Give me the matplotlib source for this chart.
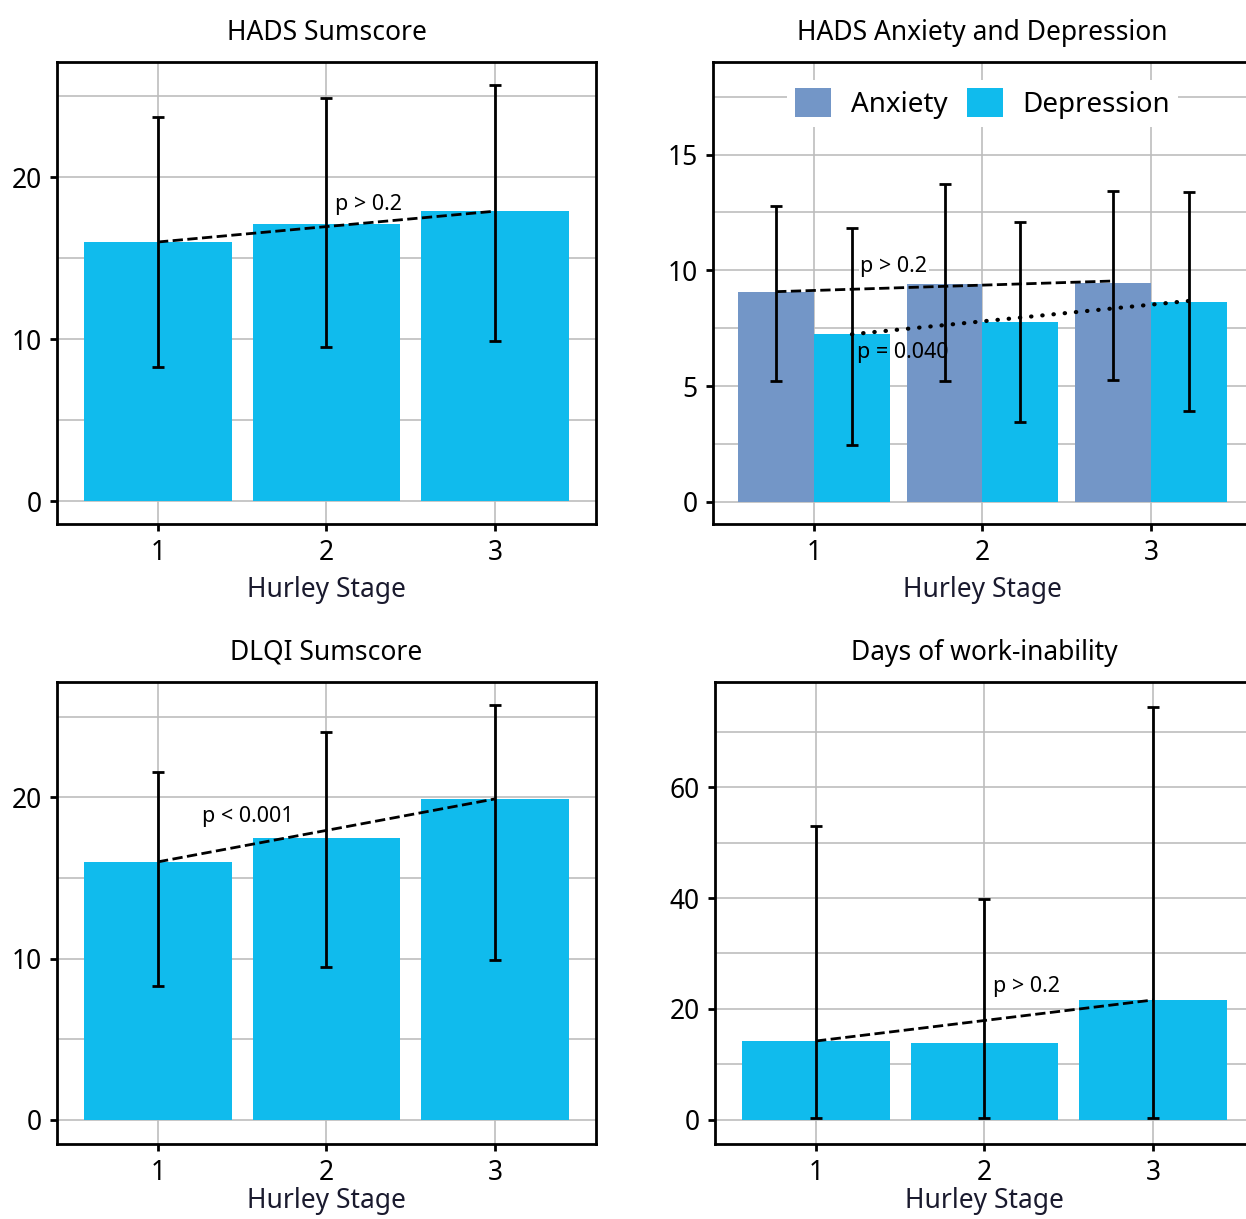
import matplotlib
matplotlib.use("Agg")
import matplotlib.pyplot as plt
import numpy as np
from matplotlib.patches import Patch
from matplotlib.ticker import MultipleLocator

plt.rcParams['font.family'] = ['Noto Sans', 'DejaVu Sans']

# Hurley stages
stages = [1, 2, 3]

# HADS sumscore (mean, lower, upper)
hads_mean = [16.0, 17.1, 17.9]
hads_lo = [8.3, 9.5, 9.9]
hads_hi = [23.7, 24.9, 25.7]

# HADS anxiety / depression
anx_mean = [9.08, 9.42, 9.45]
anx_lo = [5.22, 5.21, 5.28]
anx_hi = [12.78, 13.71, 13.45]
dep_mean = [7.24, 7.77, 8.65]
dep_lo = [2.47, 3.45, 3.93]
dep_hi = [11.84, 12.09, 13.38]
anx_trend = [9.08, 9.54]
dep_trend = [7.24, 8.68]

# DLQI sumscore
dlqi_mean = [16.0, 17.5, 19.9]
dlqi_lo = [8.3, 9.5, 9.9]
dlqi_hi = [21.6, 24.05, 25.7]

# days of work-inability
work_mean = [14.2, 13.9, 21.6]
work_lo = [0.3, 0.3, 0.3]
work_hi = [53.1, 39.8, 74.5]

blue = '#10bbed'
anx_color = '#7396c7'
grid_color = '#bdbdbd'
fs = 19
pfs = 15.5


def yerr(mean, lo, hi):
    mean = np.array(mean)
    return [mean - np.array(lo), np.array(hi) - mean]


def style_axes(ax, ylim, major, minor, labelpad=6):
    ax.set_xlim(0.4, 3.6)
    ax.set_ylim(*ylim)
    ax.set_xticks(stages)
    ax.yaxis.set_major_locator(MultipleLocator(major))
    ax.yaxis.set_minor_locator(MultipleLocator(minor))
    ax.grid(True, which='major', color=grid_color, linewidth=1.2)
    ax.grid(True, which='minor', axis='y', color=grid_color, linewidth=1.2)
    ax.set_axisbelow(True)
    for s in ax.spines.values():
        s.set_linewidth(2)
    ax.tick_params(which='major', length=5, width=2, labelsize=fs, pad=6)
    ax.tick_params(which='minor', length=0)
    ax.set_xlabel('Hurley Stage', fontsize=fs, color='#1a1a2e', labelpad=labelpad)


fig = plt.figure(figsize=(12.46, 12.19), dpi=100)
w, h = 0.4326, 0.379
ax1 = fig.add_axes([0.0457, 0.5701, w, h])
ax2 = fig.add_axes([0.5722, 0.5701, w, h])
ax3 = fig.add_axes([0.0457, 0.0615, w, h])
ax4 = fig.add_axes([0.5738, 0.0615, w, h])

eb = dict(fmt='none', ecolor='black', elinewidth=2, capsize=4, capthick=2)

# HADS Sumscore
ax1.bar(stages, hads_mean, width=0.875, color=blue)
ax1.errorbar(stages, hads_mean, yerr=yerr(hads_mean, hads_lo, hads_hi), **eb)
ax1.plot([stages[0], stages[-1]], [hads_mean[0], hads_mean[-1]], 'k--', lw=2)
ax1.text(2.05, 18.3, 'p > 0.2', fontsize=pfs, va='center', ha='left')
style_axes(ax1, (-1.4, 27.1), 10, 5)
ax1.set_title('HADS Sumscore', fontsize=fs, pad=16)

# HADS Anxiety and Depression
x = np.array(stages)
ax2.bar(x - 0.225, anx_mean, width=0.45, color=anx_color)
ax2.bar(x + 0.225, dep_mean, width=0.45, color=blue)
ax2.errorbar(x - 0.225, anx_mean, yerr=yerr(anx_mean, anx_lo, anx_hi), **eb)
ax2.errorbar(x + 0.225, dep_mean, yerr=yerr(dep_mean, dep_lo, dep_hi), **eb)
ax2.plot([x[0] - 0.225, x[-1] - 0.225], anx_trend, 'k--', lw=2)
ax2.plot([x[0] + 0.225, x[-1] + 0.225], dep_trend, color='black', lw=3,
         linestyle=(0, (0.1, 2.6)), dash_capstyle='round')
ax2.text(1.275, 10.17, 'p > 0.2', fontsize=pfs, va='center', ha='left',
         bbox=dict(facecolor='white', edgecolor='none', pad=1))
ax2.text(1.254, 6.47, 'p = 0.040', fontsize=pfs, va='center', ha='left')
style_axes(ax2, (-0.96, 19.0), 5, 2.5)
ax2.set_title('HADS Anxiety and Depression', fontsize=fs, pad=16)
handles = [Patch(facecolor=anx_color), Patch(facecolor=blue)]
leg = ax2.legend(handles, ['Anxiety', 'Depression'], ncol=2, loc='center',
                 bbox_to_anchor=(0.5, 0.91), fontsize=20, frameon=True,
                 handlelength=1.3, handleheight=1.2, handletextpad=0.7,
                 columnspacing=0.7, borderpad=0.3, fancybox=False)
leg.get_frame().set_edgecolor('none')
leg.get_frame().set_facecolor('white')
leg.get_frame().set_alpha(1)

# DLQI Sumscore
ax3.bar(stages, dlqi_mean, width=0.875, color=blue)
ax3.errorbar(stages, dlqi_mean, yerr=yerr(dlqi_mean, dlqi_lo, dlqi_hi), **eb)
ax3.plot([stages[0], stages[-1]], [dlqi_mean[0], dlqi_mean[-1]], 'k--', lw=2)
ax3.text(1.26, 18.8, 'p < 0.001', fontsize=pfs, va='center', ha='left')
style_axes(ax3, (-1.5, 27.15), 10, 5, labelpad=0)
ax3.set_title('DLQI Sumscore', fontsize=fs, pad=16)

# Days of work-inability
ax4.bar(stages, work_mean, width=0.875, color=blue)
ax4.errorbar(stages, work_mean, yerr=yerr(work_mean, work_lo, work_hi), **eb)
ax4.plot([stages[0], stages[-1]], [work_mean[0], work_mean[-1]], 'k--', lw=2)
ax4.text(2.05, 24.0, 'p > 0.2', fontsize=pfs, va='center', ha='left')
style_axes(ax4, (-4.4, 79.0), 20, 10, labelpad=0)
ax4.set_title('Days of work-inability', fontsize=fs, pad=16)

fig.savefig('out.png', dpi=100)
